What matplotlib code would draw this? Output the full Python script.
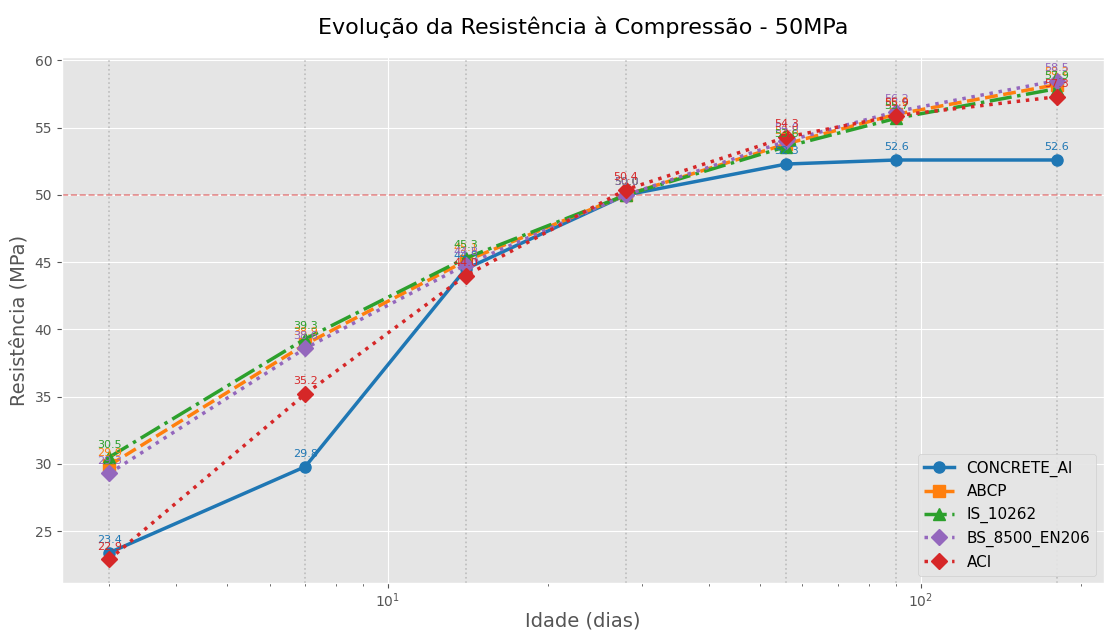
import matplotlib
matplotlib.use("Agg")
import matplotlib.pyplot as plt

plt.style.use("ggplot")

dias = [3, 7, 14, 28, 56, 90, 180]

concrete_ai = [23.4, 29.8, 44.5, 50.0, 52.3, 52.6, 52.6]
abcp = [29.9, 38.9, 45.1, 50.0, 53.8, 56.0, 58.2]
is_10262 = [30.5, 39.3, 45.3, 50.0, 53.6, 55.7, 57.9]
bs_8500 = [29.3, 38.6, 44.8, 50.0, 54.0, 56.2, 58.5]
aci = [22.9, 35.2, 44.0, 50.4, 54.3, 55.9, 57.3]

series = [
    ("CONCRETE_AI", concrete_ai, "tab:blue", "-", "o"),
    ("ABCP", abcp, "tab:orange", "--", "s"),
    ("IS_10262", is_10262, "tab:green", "-.", "^"),
    ("BS_8500_EN206", bs_8500, "tab:purple", ":", "D"),
    ("ACI", aci, "tab:red", ":", "D"),
]

fig, ax = plt.subplots(figsize=(11.05, 6.3), dpi=100)
fig.subplots_adjust(left=0.056, right=0.999, top=0.91, bottom=0.074)

for x in dias:
    ax.axvline(x, color="gray", linestyle=":", alpha=0.4, linewidth=1.2)

ax.axhline(50, color="tab:red", linestyle="--", alpha=0.5, linewidth=1.2)

for name, vals, color, ls, mk in series:
    ax.plot(dias, vals, linestyle=ls, marker=mk, color=color, linewidth=2.5,
            markersize=8, label=name)
    for x, v in zip(dias, vals):
        ax.annotate(f"{v:.1f}", (x, v), textcoords="offset points", xytext=(0, 7),
                    ha="center", fontsize=8, color=color)

ax.set_xscale("log")
ax.set_title("Evolução da Resistência à Compressão - 50MPa", fontsize=16, pad=16)
ax.set_xlabel("Idade (dias)", fontsize=14, labelpad=1)
ax.set_ylabel("Resistência (MPa)", fontsize=14)
ax.tick_params(labelsize=10)
ax.tick_params(axis="x", pad=2)
ax.legend(loc="lower right", fontsize=11, facecolor="#e5e5e5", framealpha=0.9)

fig.savefig("out.png", dpi=100)
